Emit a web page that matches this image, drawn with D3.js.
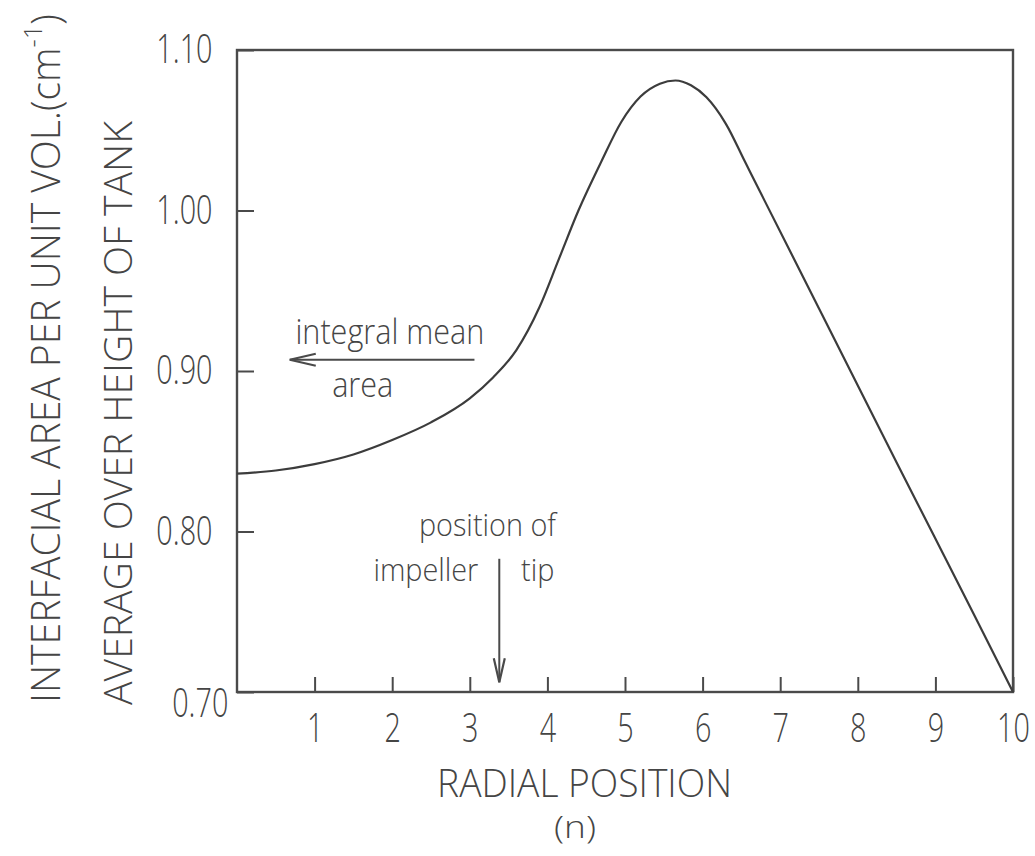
<!DOCTYPE html>
<html>
<head>
<meta charset="utf-8">
<script src="https://cdn.jsdelivr.net/npm/d3@7"></script>
<style>
  html, body { margin: 0; padding: 0; background: #ffffff; }
  svg { display: block; }
  text { font-family: "Open Sans", "DejaVu Sans", sans-serif; font-weight: 300; fill: #454545; }
</style>
</head>
<body>
<svg id="chart" width="1035" height="856"></svg>
<script>
// ---- data ----
const radialPosition = [0, 0.5, 1, 1.5, 2, 2.5, 3, 3.3, 3.6, 3.9, 4.15, 4.4, 4.7, 4.95, 5.2, 5.45, 5.65, 5.85, 6.05, 6.3, 6.55, 6.8, 7.5, 8.5, 9.5, 10];
const interfacialArea = [0.836, 0.838, 0.842, 0.848, 0.857, 0.868, 0.883, 0.896, 0.913, 0.940, 0.970, 1.000, 1.031, 1.055, 1.071, 1.079, 1.081, 1.078, 1.0705, 1.054, 1.030, 1.006, 0.939, 0.843, 0.748, 0.700];
const xTicks = [1, 2, 3, 4, 5, 6, 7, 8, 9, 10];
const yTicks = [0.70, 0.80, 0.90, 1.00, 1.10];
const xDomain = [0, 10];
const yDomain = [0.70, 1.10];
const xLabel = "RADIAL POSITION";
const subLabel = "(n)";
const yLabel1 = "INTERFACIAL AREA PER UNIT VOL.(cm";
const yLabel2 = "AVERAGE OVER HEIGHT OF TANK";
const meanLevel = 0.907;      // integral-mean arrow level
const meanArrowX = [3.06, 0.68];
const tipPosition = 3.38;     // impeller tip
const tipArrowY = [0.783, 0.706];

const svg = d3.select("#chart");
const W = 1035, H = 856;
const m = { left: 237, right: 22, top: 50, bottom: 164 };
const x = d3.scaleLinear().domain(xDomain).range([m.left, W - m.right]);
const y = d3.scaleLinear().domain(yDomain).range([H - m.bottom, m.top]);
const ink = "#4a4a4a";

function fit(sel, target) {
  sel.each(function () {
    const w = this.getComputedTextLength();
    const base = this.getAttribute("data-base") || "";
    this.setAttribute("transform", base + ` scale(${target / w},1)`);
  });
}

// frame
svg.append("rect")
  .attr("x", x(xDomain[0])).attr("y", y(yDomain[1]))
  .attr("width", x(xDomain[1]) - x(xDomain[0]))
  .attr("height", y(yDomain[0]) - y(yDomain[1]))
  .attr("fill", "none").attr("stroke", ink).attr("stroke-width", 2.4);

// x axis (inward ticks)
const xAxis = svg.append("g")
  .attr("transform", `translate(0,${y(yDomain[0])})`)
  .call(d3.axisBottom(x).tickValues(xTicks).tickSizeInner(-15).tickSizeOuter(0).tickPadding(22).tickFormat(d3.format("d")));
xAxis.select(".domain").remove();
xAxis.selectAll(".tick line").attr("stroke", ink).attr("stroke-width", 2);
xAxis.selectAll(".tick text")
  .attr("font-size", 40).attr("fill", "#454545")
  .attr("transform", "scale(0.72,1)");

// y axis (inward ticks)
const yAxis = svg.append("g")
  .attr("transform", `translate(${x(xDomain[0])},0)`)
  .call(d3.axisLeft(y).tickValues(yTicks).tickSizeInner(-17).tickSizeOuter(0).tickPadding(34).tickFormat(d3.format(".2f")));
yAxis.select(".domain").remove();
yAxis.selectAll(".tick line").attr("stroke", ink).attr("stroke-width", 2);
yAxis.selectAll(".tick text")
  .attr("font-size", 40).attr("fill", "#454545")
  .attr("transform", "scale(0.72,1)");
yAxis.selectAll(".tick").filter(d => d === 0.70).select("text").attr("dy", "0.6em").attr("x", -12);

// curve
const pts = radialPosition.map((d, i) => [d, interfacialArea[i]]);
svg.append("path")
  .datum(pts)
  .attr("fill", "none").attr("stroke", "#3c3c3c").attr("stroke-width", 2.2)
  .attr("d", d3.line().x(d => x(d[0])).y(d => y(d[1])).curve(d3.curveMonotoneX));

// axis titles
const t1 = svg.append("text").attr("x", 0).attr("y", 0)
  .attr("font-size", 40).attr("text-anchor", "middle")
  .attr("data-base", `translate(${m.left - 177},${(14 + 703) / 2}) rotate(-90)`)
  .text(yLabel1);
t1.append("tspan").attr("font-size", 26).attr("dy", -18).text("-1");
t1.append("tspan").attr("dy", 18).text(")");
fit(t1, 689);

const t2 = svg.append("text").attr("x", 0).attr("y", 0)
  .attr("font-size", 38).attr("text-anchor", "middle")
  .attr("data-base", `translate(${m.left - 105},${(121 + 705) / 2}) rotate(-90)`)
  .text(yLabel2);
fit(t2, 584);

const tx = svg.append("text").attr("x", 0).attr("y", 0)
  .attr("font-size", 38).attr("text-anchor", "middle")
  .attr("data-base", `translate(${(437 + 732) / 2},${y(yDomain[0]) + 105})`)
  .text(xLabel);
fit(tx, 295);

const tn = svg.append("text").attr("x", 0).attr("y", 0)
  .attr("font-size", 32).attr("text-anchor", "middle")
  .attr("data-base", `translate(575,${y(yDomain[0]) + 146})`)
  .text(subLabel);
fit(tn, 42);

// annotations (uniform horizontal squeeze)
function label(str, dx, dy, anchor, size) {
  svg.append("text").attr("x", 0).attr("y", 0)
    .attr("font-size", size).attr("text-anchor", anchor)
    .attr("transform", `translate(${x(dx)},${y(dy)}) scale(0.9,1)`)
    .text(str);
}
label("integral mean", 1.97, 0.917, "middle", 34);
label("area", 1.62, 0.884, "middle", 34);
label("position of", 4.11, 0.7975, "end", 32);
label("impeller", 3.11, 0.769, "end", 32);
label("tip", 3.66, 0.769, "start", 32);

// arrows
function arrow(x1, y1, x2, y2, len, half) {
  const X1 = x(x1), Y1 = y(y1), X2 = x(x2), Y2 = y(y2);
  svg.append("line").attr("x1", X1).attr("y1", Y1).attr("x2", X2).attr("y2", Y2)
    .attr("stroke", ink).attr("stroke-width", 2);
  const ang = Math.atan2(Y2 - Y1, X2 - X1);
  const bx = X2 - len * Math.cos(ang), by = Y2 - len * Math.sin(ang);
  const px = -Math.sin(ang) * half, py = Math.cos(ang) * half;
  svg.append("path")
    .attr("d", `M${bx + px},${by + py} L${X2},${Y2} L${bx - px},${by - py}`)
    .attr("fill", "none").attr("stroke", ink).attr("stroke-width", 2.2);
}
arrow(meanArrowX[0], meanLevel, meanArrowX[1], meanLevel, 26, 6);
arrow(tipPosition, tipArrowY[0], tipPosition, tipArrowY[1], 24, 5.5);
</script>
</body>
</html>
